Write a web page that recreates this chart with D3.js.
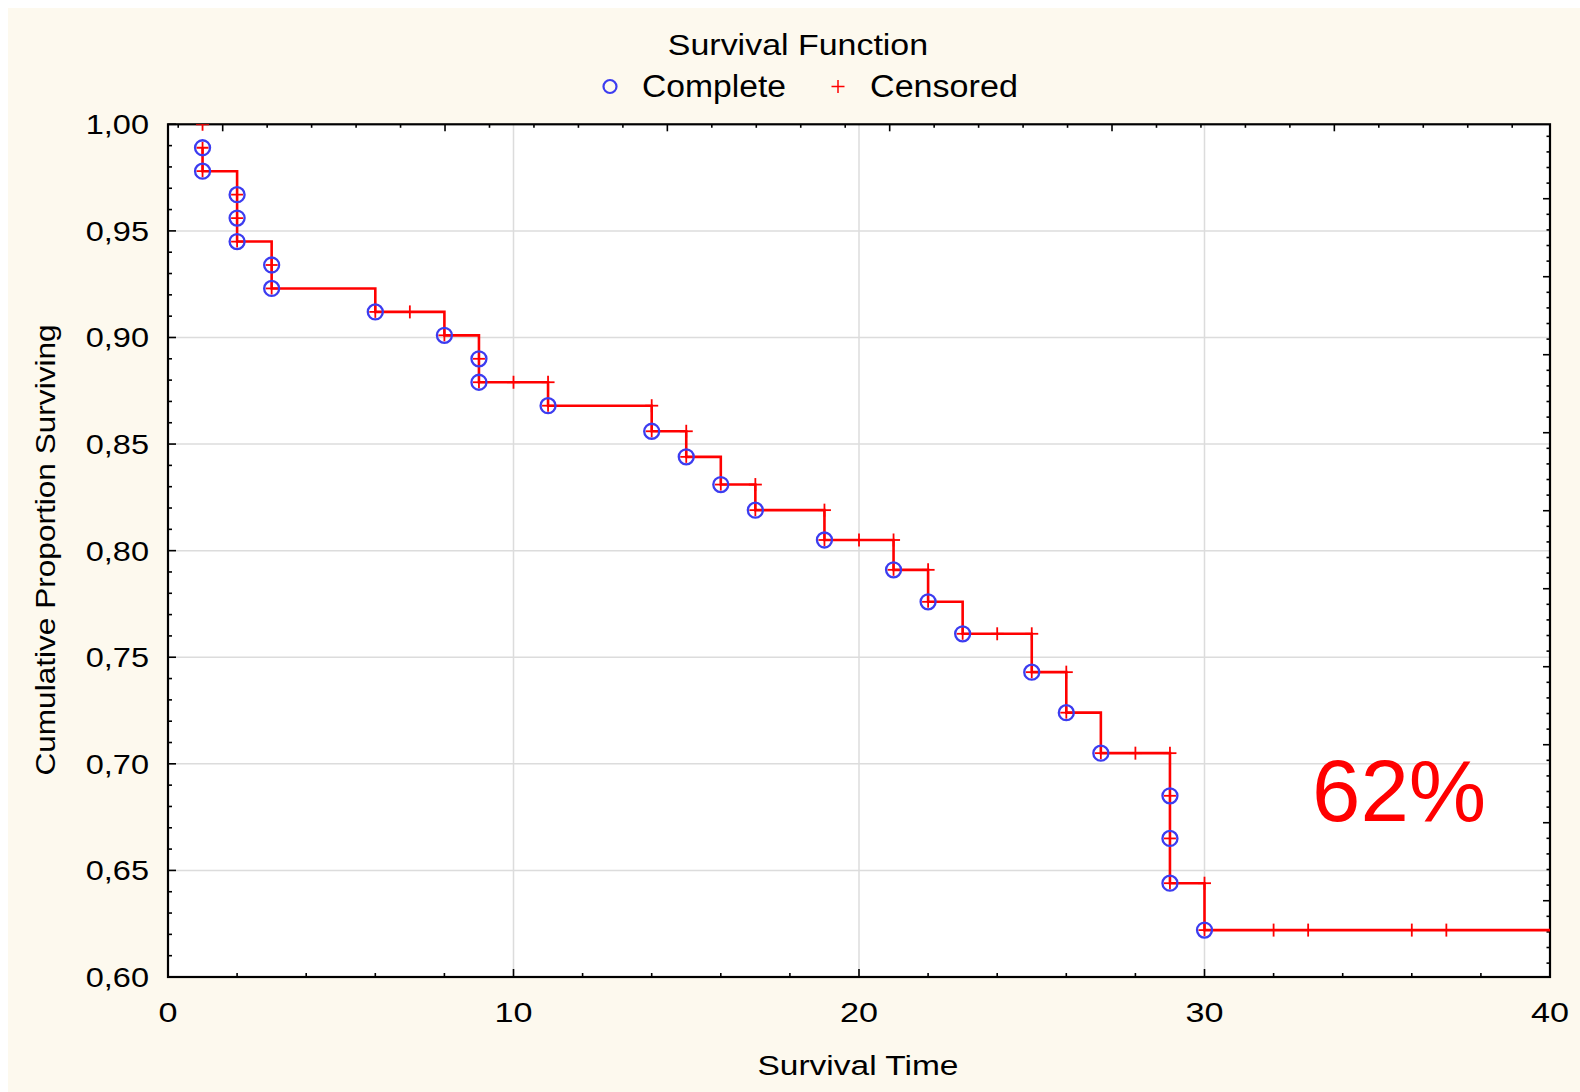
<!DOCTYPE html>
<html>
<head>
<meta charset="utf-8">
<script src="https://cdn.jsdelivr.net/npm/d3@7"></script>
<style>
  html, body { margin: 0; padding: 0; background: #ffffff; }
  svg { display: block; font-family: "Liberation Sans", Arial, sans-serif; }
</style>
</head>
<body>
<script>
// ---- data ----
const chartTitle = "Survival Function";
const xTitle = "Survival Time";
const yTitle = "Cumulative Proportion Surviving";
const annotation = "62%";
const legendLabels = ["Complete", "Censored"];

const xTicks = [0, 10, 20, 30, 40];
const yTicks = [0.60, 0.65, 0.70, 0.75, 0.80, 0.85, 0.90, 0.95, 1.00];

// complete (event) observations: time and survival after the event
const completeTime = [1, 1, 2, 2, 2, 3, 3, 6, 8, 9, 9, 11, 14, 15, 16, 17, 19, 21, 22, 23, 25, 26, 27, 29, 29, 29, 30];
const completeSurv = [0.989, 0.978, 0.967, 0.956, 0.945, 0.934, 0.923, 0.912, 0.901, 0.890, 0.879, 0.868, 0.856, 0.844, 0.831, 0.819, 0.805, 0.791, 0.776, 0.761, 0.743, 0.724, 0.705, 0.685, 0.665, 0.644, 0.622];

// censored observations
const censoredTime = [1, 7, 10, 11, 14, 15, 17, 19, 20, 21, 22, 24, 25, 26, 28, 29, 30, 32, 33, 36, 37];
const censoredSurv = [1.000, 0.912, 0.879, 0.879, 0.868, 0.856, 0.831, 0.819, 0.805, 0.805, 0.791, 0.761, 0.761, 0.743, 0.705, 0.705, 0.644, 0.622, 0.622, 0.622, 0.622];

const xMax = 40;

// ---- layout ----
const W = 1580, H = 1092;
const plot = { left: 168, right: 1550, top: 124.3, bottom: 977 };
const RED = "#ff0000", BLUE = "#3c3cf0";

const svg = d3.select("body").append("svg").attr("width", W).attr("height", H);

// widen text horizontally to match the reference's wider glyph rendering
function stretch(sel, factor) {
  sel.each(function () {
    const w = this.getComputedTextLength();
    d3.select(this).attr("textLength", w * factor).attr("lengthAdjust", "spacingAndGlyphs");
  });
  return sel;
}

// background: white margin at top/left, cream panel
svg.append("rect").attr("x", 0).attr("y", 0).attr("width", W).attr("height", H).attr("fill", "#ffffff");
svg.append("rect").attr("x", 8).attr("y", 8).attr("width", W - 8).attr("height", H - 8).attr("fill", "#fdf9ee");
svg.append("rect").attr("x", plot.left).attr("y", plot.top)
  .attr("width", plot.right - plot.left).attr("height", plot.bottom - plot.top).attr("fill", "#ffffff");

const x = d3.scaleLinear().domain([0, xMax]).range([plot.left, plot.right]);
const y = d3.scaleLinear().domain([0.60, 1.00]).range([plot.bottom, plot.top]);
// secondary (mirror) axes with their own tick spacing, as in the reference
const xTop = d3.scaleLinear().domain([0.754, 6.97]).range([plot.left, plot.right]);
const yRight = d3.scaleLinear().domain([-0.978, 9.954]).range([plot.bottom, plot.top]);

svg.append("clipPath").attr("id", "clip").append("rect")
  .attr("x", plot.left).attr("y", plot.top)
  .attr("width", plot.right - plot.left).attr("height", plot.bottom - plot.top);

// grid
const grid = svg.append("g").attr("stroke", "#dcdcdc").attr("stroke-width", 1.5);
xTicks.filter(v => v > 0 && v < xMax).forEach(v => {
  grid.append("line").attr("x1", x(v)).attr("x2", x(v)).attr("y1", plot.top).attr("y2", plot.bottom);
});
yTicks.filter(v => v > 0.60 && v < 1.00).forEach(v => {
  grid.append("line").attr("x1", plot.left).attr("x2", plot.right).attr("y1", y(v)).attr("y2", y(v));
});

// inward tick marks
const tk = svg.append("g").attr("stroke", "#000").attr("stroke-width", 1.6);
function approxInt(v, step) { return Math.abs(v / step - Math.round(v / step)) < 1e-6; }
d3.range(0, xMax + 0.001, 2).forEach(v => {
  const L = approxInt(v, 10) ? 8 : 4;
  tk.append("line").attr("x1", x(v)).attr("x2", x(v)).attr("y1", plot.bottom).attr("y2", plot.bottom - L);
});
d3.range(0.60, 1.0001, 0.01).forEach(v => {
  const L = approxInt(v, 0.05) ? 8 : 4;
  tk.append("line").attr("x1", plot.left).attr("x2", plot.left + L).attr("y1", y(v)).attr("y2", y(v));
});
d3.range(0.8, 7.0, 0.2).forEach(v => {
  if (xTop(v) <= plot.left + 1 || xTop(v) >= plot.right - 1) return;
  const L = approxInt(v, 1) ? 7 : 3.5;
  tk.append("line").attr("x1", xTop(v)).attr("x2", xTop(v)).attr("y1", plot.top).attr("y2", plot.top + L);
});
d3.range(-0.8, 10, 0.2).forEach(v => {
  if (yRight(v) >= plot.bottom - 1 || yRight(v) <= plot.top + 1) return;
  const L = approxInt(v, 1) ? 7 : 3.5;
  tk.append("line").attr("x1", plot.right).attr("x2", plot.right - L).attr("y1", yRight(v)).attr("y2", yRight(v));
});

// frame
svg.append("rect").attr("x", plot.left).attr("y", plot.top)
  .attr("width", plot.right - plot.left).attr("height", plot.bottom - plot.top)
  .attr("fill", "none").attr("stroke", "#000").attr("stroke-width", 2.2);

// tick labels
const fmt = d3.format(".2f");
stretch(svg.append("g").selectAll("text").data(yTicks).join("text")
  .attr("x", plot.left - 19).attr("y", d => y(d) + 10)
  .attr("text-anchor", "end").attr("font-size", 28).attr("fill", "#000")
  .text(d => fmt(d).replace(".", ",")), 1.16);
stretch(svg.append("g").selectAll("text").data(xTicks).join("text")
  .attr("x", d => x(d)).attr("y", 1021.5)
  .attr("text-anchor", "middle").attr("font-size", 28).attr("fill", "#000")
  .text(d => d), 1.22);

// axis titles
stretch(svg.append("text").attr("x", 858).attr("y", 1074.5).attr("text-anchor", "middle")
  .attr("font-size", 27).attr("fill", "#000").text(xTitle), 1.24);
stretch(svg.append("text").attr("transform", "translate(55,550) rotate(-90)").attr("text-anchor", "middle")
  .attr("font-size", 27).attr("fill", "#000").text(yTitle), 1.17);

// title and legend
stretch(svg.append("text").attr("x", 798).attr("y", 55).attr("text-anchor", "middle")
  .attr("font-size", 29).attr("fill", "#000").text(chartTitle), 1.17);
svg.append("circle").attr("cx", 610).attr("cy", 86.5).attr("r", 6.5)
  .attr("fill", "none").attr("stroke", BLUE).attr("stroke-width", 2.2);
stretch(svg.append("text").attr("x", 642).attr("y", 97).attr("font-size", 31).attr("fill", "#000").text(legendLabels[0]), 1.085);
const lp = svg.append("g").attr("stroke", RED).attr("stroke-width", 1.5);
lp.append("line").attr("x1", 831.5).attr("x2", 844.5).attr("y1", 86.5).attr("y2", 86.5);
lp.append("line").attr("x1", 838).attr("x2", 838).attr("y1", 80).attr("y2", 93);
stretch(svg.append("text").attr("x", 870).attr("y", 97).attr("font-size", 31).attr("fill", "#000").text(legendLabels[1]), 1.1);

// survival step line
const pts = [[completeTime[0], completeSurv[0]]];
for (let i = 1; i < completeTime.length; i++) {
  pts.push([completeTime[i], completeSurv[i - 1]]);
  pts.push([completeTime[i], completeSurv[i]]);
}
pts.push([xMax, completeSurv[completeSurv.length - 1]]);

const g = svg.append("g").attr("clip-path", "url(#clip)");
g.append("path").datum(pts)
  .attr("d", d3.line().x(d => x(d[0])).y(d => y(d[1])))
  .attr("fill", "none").attr("stroke", RED).attr("stroke-width", 2.6);

function plus(sel, px, py, h) {
  sel.append("line").attr("x1", px - h).attr("x2", px + h).attr("y1", py).attr("y2", py);
  sel.append("line").attr("x1", px).attr("x2", px).attr("y1", py - h).attr("y2", py + h);
}
const plusG = g.append("g").attr("stroke", RED).attr("stroke-width", 1.8);
censoredTime.forEach((t, i) => plus(plusG, x(t), y(censoredSurv[i]), 6.5));
completeTime.forEach((t, i) => plus(plusG, x(t), y(completeSurv[i]), 6));

g.append("g").selectAll("circle").data(completeTime.map((t, i) => [t, completeSurv[i]])).join("circle")
  .attr("cx", d => x(d[0])).attr("cy", d => y(d[1])).attr("r", 7.5)
  .attr("fill", "none").attr("stroke", BLUE).attr("stroke-width", 2.3);

// annotation
svg.append("text").attr("x", 1312).attr("y", 820.5).attr("font-size", 87).attr("fill", RED).text(annotation);
</script>
</body>
</html>
